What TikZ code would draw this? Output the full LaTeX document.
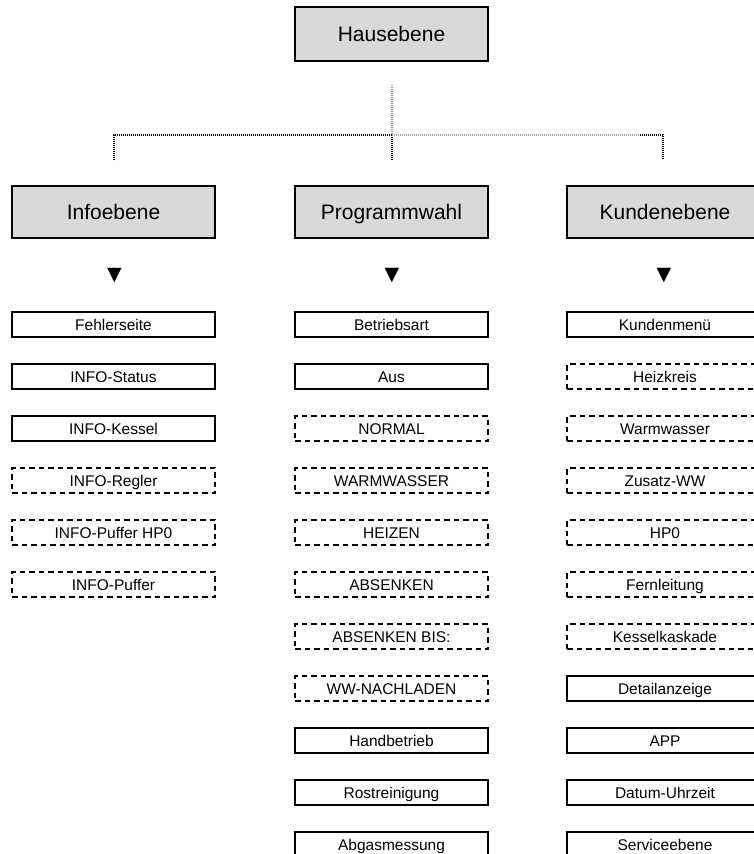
\documentclass[tikz,border=0pt]{standalone}
\usepackage{fontspec}
\setmainfont{Liberation Sans}
\newfontfamily\symfont{DejaVu Sans}
\definecolor{boxgray}{HTML}{D9D9D9}
\definecolor{linegray}{HTML}{A0A0A0}
\begin{document}
\begin{tikzpicture}[x=1pt,y=-1pt,
  bigbox/.style={draw, line width=2.2pt, fill=boxgray, inner sep=0pt, minimum height=52pt, text height=17pt, text depth=2pt, font=\fontsize{21}{25}\selectfont},
  smallbox/.style={draw, line width=2pt, inner sep=0pt, minimum height=25pt, text height=13pt, text depth=1.9pt, font=\fontsize{15.5}{18}\selectfont},
  dashbox/.style={smallbox, dash pattern=on 5.5pt off 4pt},
  tri/.style={inner sep=0pt, font=\symfont\fontsize{19}{20}\selectfont},
  dotline/.style={line width=2pt, dash pattern=on 1pt off 1pt},
  lw/.style={minimum width=203pt},
  mw/.style={minimum width=193pt},
  rw/.style={minimum width=196pt}]
\useasboundingbox (0,0) rectangle (754,854);
\clip (0,0) rectangle (754,854);
% top
\node[bigbox, mw, minimum height=54pt] (haus) at (391.5,34) {Hausebene};
% level 2
\node[bigbox, lw] (info) at (113.5,212) {Infoebene};
\node[bigbox, mw] (prog) at (391.5,212) {Programmwahl};
\node[bigbox, rw] (kund) at (665,212) {Kundenebene};
% connectors
\coordinate (vtop) at (392,85);
\coordinate (junc) at (392,135);
\coordinate (jmid) at (392,160);
\coordinate (jl) at (114,135);
\coordinate (jlb) at (114,160);
\coordinate (jr) at (663,135);
\coordinate (jrg) at (640,135);
\coordinate (jrb) at (663,160);
\draw[dotline, linegray] (vtop) -- (junc);
\draw[dotline, black] (junc) -- (jmid);
\draw[dotline, black] (jlb) -- (jl) -- (junc);
\draw[dotline, linegray] (junc) -- (jrg);
\draw[dotline, black] (jrg) -- (jr) -- (jrb);
% triangles
\node[tri] (t1) at (114.5,276) {▼};
\node[tri] (t2) at (392,276) {▼};
\node[tri] (t3) at (664,276) {▼};
% left column
\node[smallbox, lw] (l1) at (113.5,324.5) {Fehlerseite};
\node[smallbox, lw] (l2) at (113.5,376.5) {INFO-Status};
\node[smallbox, lw] (l3) at (113.5,428.5) {INFO-Kessel};
\node[dashbox, lw] (l4) at (113.5,480.5) {INFO-Regler};
\node[dashbox, lw] (l5) at (113.5,532.5) {INFO-Puffer HP0};
\node[dashbox, lw] (l6) at (113.5,584.5) {INFO-Puffer};
% middle column
\node[smallbox, mw] (m1) at (391.5,324.5) {Betriebsart};
\node[smallbox, mw] (m2) at (391.5,376.5) {Aus};
\node[dashbox, mw] (m3) at (391.5,428.5) {NORMAL};
\node[dashbox, mw] (m4) at (391.5,480.5) {WARMWASSER};
\node[dashbox, mw] (m5) at (391.5,532.5) {HEIZEN};
\node[dashbox, mw] (m6) at (391.5,584.5) {ABSENKEN};
\node[dashbox, mw] (m7) at (391.5,636.5) {ABSENKEN BIS:};
\node[dashbox, mw] (m8) at (391.5,688.5) {WW-NACHLADEN};
\node[smallbox, mw] (m9) at (391.5,740.5) {Handbetrieb};
\node[smallbox, mw] (m10) at (391.5,792.5) {Rostreinigung};
\node[smallbox, mw] (m11) at (391.5,844.5) {Abgasmessung};
% right column
\node[smallbox, rw] (r1) at (665,324.5) {Kundenmenü};
\node[dashbox, rw] (r2) at (665,376.5) {Heizkreis};
\node[dashbox, rw] (r3) at (665,428.5) {Warmwasser};
\node[dashbox, rw] (r4) at (665,480.5) {Zusatz-WW};
\node[dashbox, rw] (r5) at (665,532.5) {HP0};
\node[dashbox, rw] (r6) at (665,584.5) {Fernleitung};
\node[dashbox, rw] (r7) at (665,636.5) {Kesselkaskade};
\node[smallbox, rw] (r8) at (665,688.5) {Detailanzeige};
\node[smallbox, rw] (r9) at (665,740.5) {APP};
\node[smallbox, rw] (r10) at (665,792.5) {Datum-Uhrzeit};
\node[smallbox, rw] (r11) at (665,844.5) {Serviceebene};
\end{tikzpicture}
\end{document}
